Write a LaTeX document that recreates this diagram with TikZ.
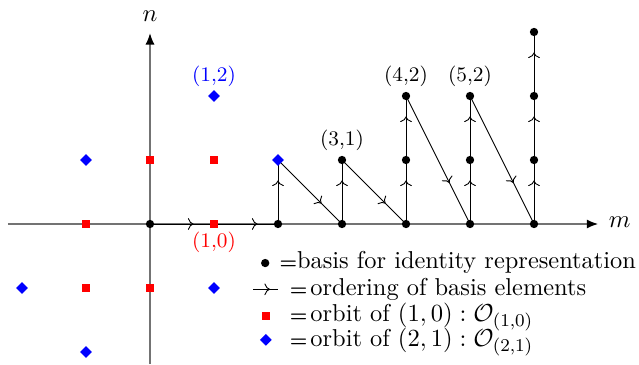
\documentclass[tikz,border=0pt]{standalone}
\usetikzlibrary{arrows.meta,shapes.geometric,decorations.markings}
\begin{document}
\begin{tikzpicture}[
  axis/.style={draw=black!55, line width=0.5pt},
  ord/.style={draw=black, line width=0.4pt, postaction={decorate},
    decoration={markings, mark=at position 0.68 with {\arrow{>}}}},
  bdot/.style={circle, fill=black, inner sep=0pt, minimum size=0.13cm},
  rsq/.style={rectangle, fill=red, inner sep=0pt, minimum size=0.125cm},
  bdia/.style={diamond, fill=blue, inner sep=0pt, minimum size=0.19cm},
  lab/.style={font=\fontsize{9.2}{11}\selectfont, inner sep=0pt},
  leg/.style={font=\fontsize{10.85}{13}\selectfont, anchor=base west, inner sep=0pt},
  eqs/.style={font=\fontsize{8.2}{9}\selectfont\bfseries, anchor=base west, inner sep=0pt},
]
\useasboundingbox (-2.34375,-2.1875) rectangle (7.640625,3.5);
% axes
\coordinate (xl) at (-2.22,0);
\coordinate (xr) at (7.0,0);
\coordinate (yb) at (0,-2.1875);
\coordinate (yt) at (0,2.98);
\draw[axis,-{Latex[black,length=5pt,width=4pt]}] (xl) -- (xr);
\draw[axis,-{Latex[black,length=5pt,width=4pt]}] (yb) -- (yt);
\node[font=\fontsize{10.6}{13}\selectfont] (mlab) at (7.34,0.03) {$m$};
\node[font=\fontsize{10.6}{13}\selectfont] (nlab) at (0,3.25) {$n$};
% lattice coordinates
\foreach \x/\y in {0/0,1/0,2/0,2/1,3/0,3/1,4/0,4/1,4/2,5/0,5/1,5/2,6/0,6/1,6/2,6/3}
  \coordinate (c\x\y) at (\x,\y);
% ordering
\draw[ord] (c00) -- (c10);
\draw[ord] (c10) -- (c20);
\draw[ord] (c20) -- (c21);
\draw[ord] (c21) -- (c30);
\draw[ord] (c30) -- (c31);
\draw[ord] (c31) -- (c40);
\draw[ord] (c40) -- (c41);
\draw[ord] (c41) -- (c42);
\draw[ord] (c42) -- (c50);
\draw[ord] (c50) -- (c51);
\draw[ord] (c51) -- (c52);
\draw[ord] (c52) -- (c60);
\draw[ord] (c60) -- (c61);
\draw[ord] (c61) -- (c62);
\draw[ord] (c62) -- (c63);
% basis dots
\foreach \x/\y in {0/0,2/0,3/0,3/1,4/0,4/1,4/2,5/0,5/1,5/2,6/0,6/1,6/2,6/3}
  \node[bdot] (d\x\y) at (c\x\y) {};
% orbit of (1,0)
\node[rsq] (r1) at (1,0) {};
\node[rsq] (r2) at (0,1) {};
\node[rsq] (r3) at (1,1) {};
\node[rsq] (r4) at (-1,0) {};
\node[rsq] (r5) at (-1,-1) {};
\node[rsq] (r6) at (0,-1) {};
% orbit of (2,1)
\node[bdia] (b1) at (1,2) {};
\node[bdia] (b2) at (-1,1) {};
\node[bdia] (b3) at (2,1) {};
\node[bdia] (b4) at (-2,-1) {};
\node[bdia] (b5) at (1,-1) {};
\node[bdia] (b6) at (-1,-2) {};
% labels
\node[lab, text=blue] (l12) at (1,2.3) {(1,2)};
\node[lab, text=red] (l10) at (1,-0.29) {(1,0)};
\node[lab] (l31) at (3,1.3) {(3,1)};
\node[lab] (l42) at (4,2.3) {(4,2)};
\node[lab] (l52) at (5,2.3) {(5,2)};
% legend
\node[bdot] (g1) at (1.80,-0.61) {};
\node[eqs] (e1) at (2.02,-0.69) {=};
\node[leg] (t1) at (2.29,-0.69) {basis for identity representation};
\coordinate (ga) at (1.61,-1.02);
\coordinate (gb) at (2.0,-1.02);
\draw[ord] (ga) -- (gb);
\node[eqs] (e2) at (2.18,-1.11) {=};
\node[leg] (t2) at (2.5,-1.11) {ordering of basis elements};
\node[rsq] (g3) at (1.81,-1.44) {};
\node[eqs] (e3) at (2.18,-1.53) {=};
\node[leg] (t3) at (2.5,-1.53) {orbit of $(1,0):\mathcal{O}_{(1,0)}$};
\node[bdia] (g4) at (1.81,-1.81) {};
\node[eqs] (e4) at (2.18,-1.92) {=};
\node[leg] (t4) at (2.5,-1.92) {orbit of $(2,1):\mathcal{O}_{(2,1)}$};
\end{tikzpicture}
\end{document}
